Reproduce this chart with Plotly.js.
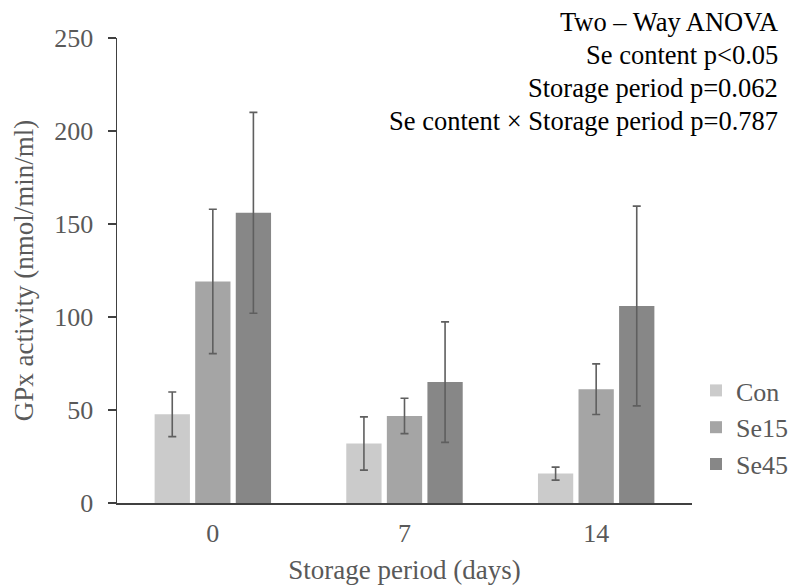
<!DOCTYPE html>
<html>
<head>
<meta charset="utf-8">
<script src="https://cdn.plot.ly/plotly-3.0.1.min.js"></script>
<style>html,body{margin:0;padding:0;background:#fff;}#chart{width:792px;height:585px;}</style>
</head>
<body>
<div id="chart"></div>
<script>
const categories = ['0', '7', '14'];
const seriesNames = ['Con', 'Se15', 'Se45'];
const conValues = [47.7, 32.0, 15.8];
const conErrors = [12.0, 14.3, 3.5];
const se15Values = [119.1, 46.8, 61.2];
const se15Errors = [38.8, 9.5, 13.6];
const se45Values = [156.0, 65.0, 105.9];
const se45Errors = [54.0, 32.4, 53.7];
const yTicks = [0, 50, 100, 150, 200, 250];
const statLines = ['Two \u2013 Way ANOVA', 'Se content p<0.05', 'Storage period p=0.062', 'Se content \u00d7 Storage period p=0.787'];

const colors = ['#cbcbcb', '#a5a5a5', '#878787'];
const values = [conValues, se15Values, se45Values];
const errors = [conErrors, se15Errors, se45Errors];
const font = 'Liberation Serif';

const traces = seriesNames.map((name, i) => ({
  type: 'bar',
  name: name,
  x: categories,
  y: values[i],
  legendgroup: name,
  marker: {color: colors[i], line: {width: 0}},
  error_y: {type: 'data', array: errors[i], visible: true, color: '#5f5f5f', thickness: 1.6, width: 4}
}));

const plotLeft = 117, plotRight = 692, plotTop = 38, plotBottom = 503;
const pw = plotRight - plotLeft, ph = plotBottom - plotTop;
const statY = [22, 55, 88, 121];
const annotations = statLines.map((t, i) => ({
  text: t, xref: 'paper', yref: 'paper',
  x: (780 - plotLeft) / pw, y: (plotBottom - statY[i]) / ph,
  xanchor: 'right', yanchor: 'middle', showarrow: false,
  font: {family: font, size: 26.5, color: '#000000'}
}));

const layout = {
  width: 792, height: 585,
  margin: {l: plotLeft, r: 792 - plotRight, t: plotTop, b: 585 - plotBottom, pad: 0},
  paper_bgcolor: '#ffffff', plot_bgcolor: '#ffffff',
  barmode: 'group', bargap: 0.365, bargroupgap: 0.13,
  font: {family: font, color: '#595959'},
  xaxis: {
    type: 'category', showgrid: false, showline: true, linecolor: '#404040', linewidth: 1.5,
    ticks: '', tickfont: {family: font, size: 26, color: '#595959'}, ticklabelstandoff: 6,
    title: {text: 'Storage period (days)', font: {family: font, size: 27, color: '#595959'}, standoff: 14},
    zeroline: false, automargin: false
  },
  yaxis: {
    range: [0, 250], tickvals: yTicks, showgrid: false, showline: true, linecolor: '#404040', linewidth: 1.5,
    ticks: 'outside', ticklen: 8, tickcolor: '#404040', tickwidth: 1.5, ticklabelstandoff: 9,
    tickfont: {family: font, size: 26, color: '#595959'}, zeroline: false, automargin: false,
    title: {text: 'GPx activity (nmol/min/ml)', font: {family: font, size: 27, color: '#595959'}, standoff: 13}
  },
  legend: {
    xref: 'container', yref: 'container',
    x: 696 / 792, y: 1 - 367 / 585, xanchor: 'left', yanchor: 'top',
    font: {family: font, size: 26, color: '#595959'}, traceorder: 'grouped', tracegroupgap: 0,
    bgcolor: 'rgba(0,0,0,0)', itemwidth: 30
  },
  annotations: annotations,
  showlegend: true
};

Plotly.newPlot('chart', traces, layout, {staticPlot: true, displayModeBar: false});
</script>
</body>
</html>
